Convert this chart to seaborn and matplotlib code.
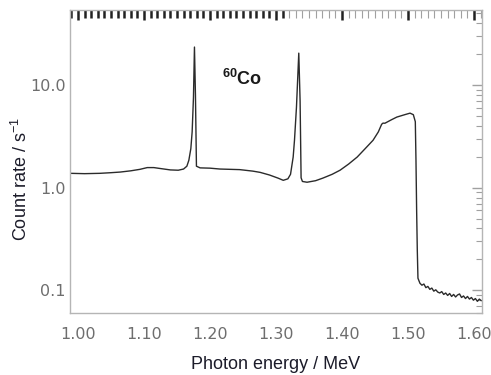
import numpy as np
import pandas as pd
import matplotlib
matplotlib.use("Agg")
import matplotlib.pyplot as plt
from matplotlib.ticker import MultipleLocator, LogLocator, FixedLocator, FixedFormatter, NullFormatter
import seaborn as sns

# 60Co gamma spectrum: photon energy (MeV) and count rate (1/s)
energy = [
    0.989, 1.010, 1.033, 1.050, 1.064, 1.080, 1.094, 1.105, 1.115, 1.124,
    1.140, 1.152, 1.160, 1.165, 1.168, 1.171, 1.173, 1.175, 1.1765, 1.178,
    1.1795, 1.185, 1.200, 1.215, 1.245, 1.265, 1.276, 1.290, 1.303, 1.311,
    1.318, 1.322, 1.326, 1.328, 1.331, 1.3345, 1.3365, 1.338, 1.340, 1.347,
    1.360, 1.371, 1.385, 1.397, 1.410, 1.423, 1.435, 1.447, 1.455, 1.460,
    1.462, 1.465, 1.475, 1.483, 1.495, 1.503, 1.508, 1.511, 1.512, 1.513,
    1.514, 1.515, 1.518,
    1.521, 1.524, 1.527, 1.530, 1.533, 1.536, 1.539, 1.542, 1.545, 1.548,
    1.551, 1.554, 1.557, 1.560, 1.563, 1.566, 1.569, 1.572, 1.575, 1.578,
    1.581, 1.584, 1.587, 1.590, 1.593, 1.596, 1.599, 1.602, 1.605, 1.608,
    1.611,
]
count_rate = [
    1.38, 1.37, 1.38, 1.40, 1.42, 1.46, 1.51, 1.57, 1.57, 1.54,
    1.49, 1.48, 1.52, 1.62, 1.85, 2.4, 3.5, 7.6, 23.5, 8.0,
    1.62, 1.56, 1.55, 1.52, 1.50, 1.45, 1.41, 1.33, 1.24, 1.18,
    1.22, 1.35, 1.99, 2.9, 6.1, 20.5, 7.0, 1.25, 1.15, 1.13,
    1.17, 1.24, 1.35, 1.48, 1.70, 1.99, 2.40, 2.9, 3.5, 4.15,
    4.26, 4.25, 4.6, 4.88, 5.15, 5.33, 5.15, 4.4, 1.85, 0.6,
    0.245, 0.131, 0.117,
    0.112, 0.115, 0.106, 0.109, 0.102, 0.105, 0.098, 0.101, 0.096, 0.094,
    0.097, 0.091, 0.094, 0.089, 0.093, 0.087, 0.091, 0.086, 0.090, 0.092,
    0.085, 0.088, 0.083, 0.087, 0.082, 0.085, 0.080, 0.083, 0.078, 0.082,
    0.079,
]

x_ticks = [1.00, 1.10, 1.20, 1.30, 1.40, 1.50, 1.60]
x_tick_labels = ["1.00", "1.10", "1.20", "1.30", "1.40", "1.50", "1.60"]
y_ticks = [0.1, 1.0, 10.0]
y_tick_labels = ["0.1", "1.0", "10.0"]

df = pd.DataFrame({"energy": energy, "rate": count_rate})

sns.set_theme(style="white")
plt.rcParams["font.family"] = ["Liberation Sans", "DejaVu Sans"]
plt.rcParams["mathtext.fontset"] = "custom"
plt.rcParams["mathtext.rm"] = "Liberation Sans"
plt.rcParams["mathtext.bf"] = "Liberation Sans:bold"

fig = plt.figure(figsize=(4.91, 3.75), dpi=100)
ax = fig.add_axes([70 / 491, 1 - 313 / 375, 412 / 491, 303 / 375])

sns.lineplot(data=df, x="energy", y="rate", ax=ax, color="#2b2b2b",
             linewidth=1.0, estimator=None, sort=False)

ax.set_yscale("log")
ax.set_xlim(0.988, 1.612)
ax.set_ylim(0.06, 54)

spine_col = "#b5b5b5"
for s in ax.spines.values():
    s.set_color(spine_col)
    s.set_linewidth(1.0)

ax.xaxis.set_major_locator(FixedLocator(x_ticks))
ax.xaxis.set_major_formatter(FixedFormatter(x_tick_labels))
ax.xaxis.set_minor_locator(MultipleLocator(0.01))
ax.yaxis.set_major_locator(FixedLocator(y_ticks))
ax.yaxis.set_major_formatter(FixedFormatter(y_tick_labels))
ax.yaxis.set_minor_locator(LogLocator(base=10, subs=np.arange(2, 10)))
ax.yaxis.set_minor_formatter(NullFormatter())

ax.tick_params(which="both", direction="in", top=True, right=True,
               color="#a0a0a0", labelcolor="#6e6e6e")
ax.tick_params(axis="x", which="major", length=5, width=1.0, pad=10)
ax.tick_params(axis="x", which="minor", length=3, width=0.8)
ax.tick_params(axis="y", which="major", length=7, width=1.0, pad=3)
ax.tick_params(axis="y", which="minor", length=4, width=0.8)
for lbl in ax.get_xticklabels() + ax.get_yticklabels():
    lbl.set_fontfamily("DejaVu Sans")
    lbl.set_fontsize(11.5)

# darker tick marks along the top edge: all of the left part, majors on the right
for t in ax.xaxis.get_minor_ticks():
    t.tick2line.set_markersize(6)
    loc = t.get_loc()
    if loc is not None and loc < 1.32:
        t.tick2line.set_markeredgecolor("#222222")
        t.tick2line.set_markeredgewidth(1.8)
for t in ax.xaxis.get_major_ticks():
    t.tick2line.set_markersize(7)
    t.tick2line.set_markeredgecolor("#222222")
    t.tick2line.set_markeredgewidth(1.8)

ax.set_xlabel("Photon energy / MeV", fontsize=13, color="#1c1c2a", labelpad=10)
ax.set_ylabel("Count rate / s$^{-1}$", fontsize=13, color="#1c1c2a")
ax.yaxis.set_label_coords(-0.095, 0.442)
ax.grid(False)

ax.text(1.218, 11.5, r"$^{\mathbf{60}}$Co", fontsize=13, fontweight="bold",
        color="#1a1a1a", ha="left", va="center")

fig.savefig("out.png", dpi=100)
